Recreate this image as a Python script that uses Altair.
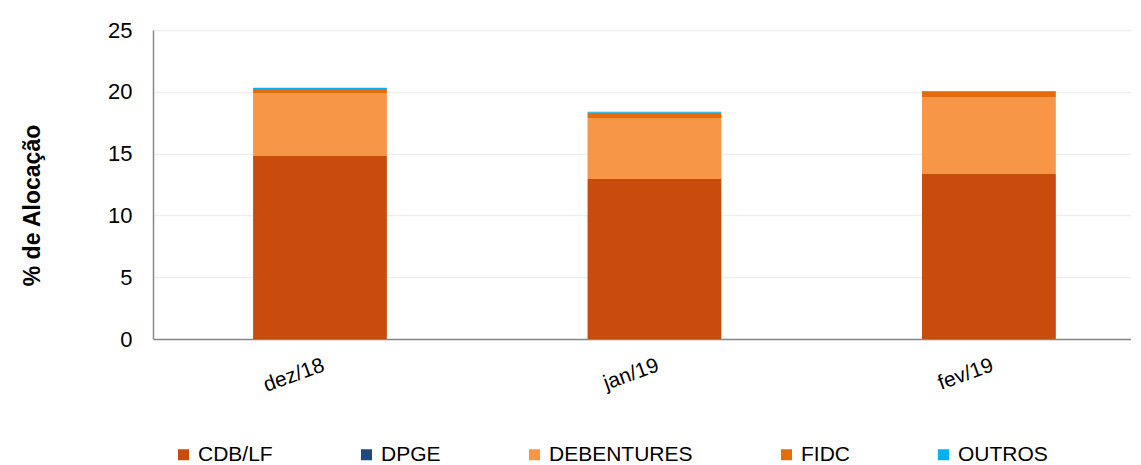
import altair as alt
import pandas as pd

months = ["dez/18", "jan/19", "fev/19"]
series = ["CDB/LF", "DPGE", "DEBENTURES", "FIDC", "OUTROS"]
colors = ["#C84C0C", "#1F497D", "#F79646", "#E46C0A", "#00B0F0"]
cdb_lf = [14.8, 12.95, 13.35]
dpge = [0.0, 0.0, 0.0]
debentures = [5.1, 4.93, 6.23]
fidc = [0.33, 0.42, 0.43]
outros = [0.1, 0.08, 0.05]

vals = [cdb_lf, dpge, debentures, fidc, outros]
rows = []
for si, s in enumerate(series):
    for mi, m in enumerate(months):
        rows.append({"mes": m, "serie": s, "valor": vals[si][mi], "ordem": si})
df = pd.DataFrame(rows)

FONT = "Liberation Sans"

chart = alt.Chart(df).mark_bar().encode(
    x=alt.X("mes:N", sort=months,
            scale=alt.Scale(paddingInner=0.6, paddingOuter=0.262, align=0.571),
            axis=alt.Axis(title=None, labelAngle=-20, labelAlign="right", labelBaseline="top",
                          labelFontSize=21, labelColor="#000000", labelPadding=15,
                          ticks=False, domainColor="#898989", domainWidth=1.5, grid=False)),
    y=alt.Y("valor:Q", stack="zero",
            scale=alt.Scale(domain=[0, 25], nice=False),
            axis=alt.Axis(title="% de Alocação", values=[0, 5, 10, 15, 20, 25],
                          labelFontSize=22, labelColor="#000000", labelPadding=21,
                          ticks=False, domainColor="#898989", domainWidth=1.5,
                          gridColor="#eeeeee", gridWidth=1.5,
                          titleFontSize=23, titleFontWeight="bold", titleColor="#000000",
                          titleX=-121, titleY=175, titleAlign="center", titleBaseline="middle",
                          titleAngle=-90)),
    color=alt.Color("serie:N", sort=series,
                    scale=alt.Scale(domain=series, range=colors),
                    legend=alt.Legend(title=None, orient="none", direction="horizontal",
                                      legendX=20, legendY=414, symbolType="square",
                                      symbolSize=121, symbolStrokeWidth=0,
                                      labelFontSize=21, labelColor="#000000",
                                      labelOffset=4, columnPadding=83, labelLimit=400)),
    order=alt.Order("ordem:Q", sort="ascending"),
).properties(
    width=978, height=309,
    autosize=alt.AutoSizeParams(type="none"),
    padding={"left": 145, "top": 22, "right": 0, "bottom": 126},
).configure(font=FONT).configure_view(stroke=None)

chart.save("out.html", embed_options={"renderer": "svg", "actions": False})
